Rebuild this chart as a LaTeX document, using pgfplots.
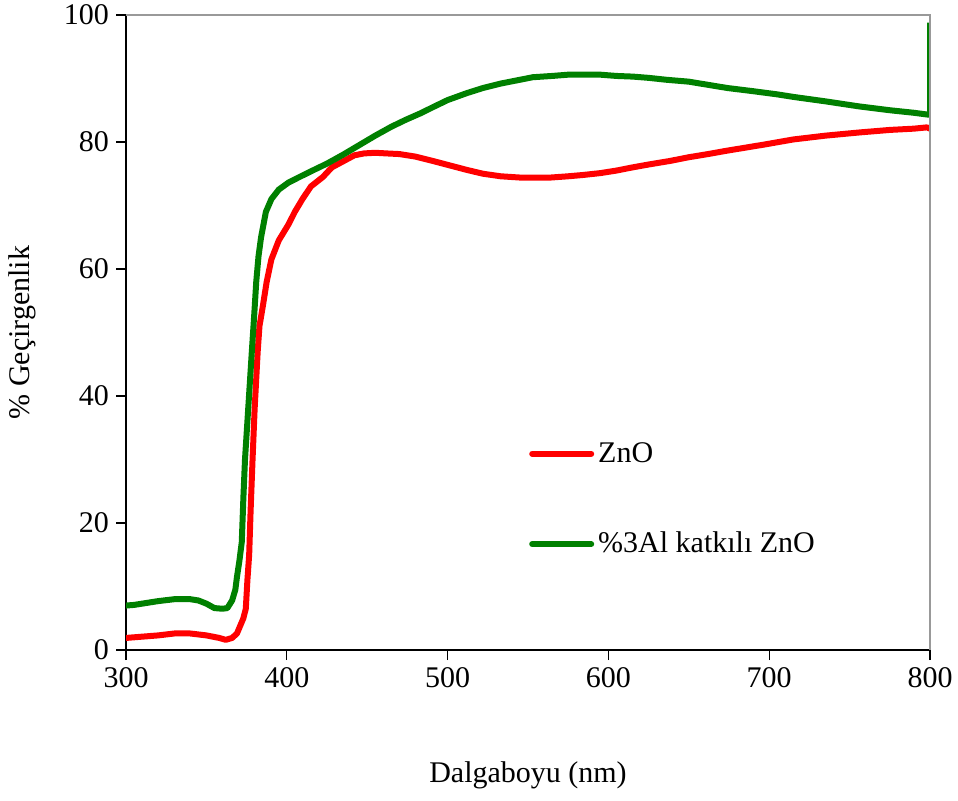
\documentclass[border=0pt]{standalone}
\usepackage{pgfplots}
\pgfplotsset{compat=1.18}
\usepackage{fontspec}
\setmainfont{Liberation Serif}
\definecolor{zred}{RGB}{255,0,0}
\definecolor{zgreen}{RGB}{0,128,0}
\begin{document}
\begin{tikzpicture}
\begin{axis}[
  name=ax,
  scale only axis=true,
  width=402pt, height=317.5pt,
  xmin=300, xmax=800, ymin=0, ymax=100,
  xtick={300,400,...,800}, ytick={0,20,...,100},
  font=\fontsize{15}{18}\selectfont,
  /pgf/number format/assume math mode=true,
  /pgf/number format/1000 sep={},
  tick align=outside, xtick pos=left, ytick pos=left,
  major tick length=5pt,
  tick style={black, line width=0.6pt},
  axis x line*=bottom, axis y line*=left,
  axis line style={black, line width=0.7pt, -},
  xlabel={Dalgaboyu (nm)},
  ylabel={\% Geçirgenlik},
  xlabel style={at={(axis description cs:0.5,-0.197)}, anchor=center},
  ylabel style={at={(axis description cs:-0.129,0.5)}, anchor=center, rotate=0},
  legend style={at={(axis description cs:0.501,0.334)}, anchor=north west, draw=none, fill=none,
    row sep=29.5pt, font=\fontsize{15}{18}\selectfont, inner sep=0pt},
  legend cell align=left,
  legend image code/.code={\draw[#1, line width=3pt, line cap=round] (0pt,0pt) -- (29.5pt,0pt);},
]
\addplot[zred, line width=3pt, line join=round] coordinates {
(300,1.9) (305,2.0) (310,2.1) (320,2.3) (330,2.6) (340,2.6) (350,2.3) (358,1.9) (362,1.6) (366,1.9)
(369,2.6) (371,3.8) (373,5.0) (374.5,6.5) (375.5,11) (376.6,15) (377.5,22) (378.7,30) (380,38)
(381.9,47) (383,51) (385,54) (387.5,58) (390.4,61.5) (395,64.5) (401,67) (405,69) (409.7,71)
(415,73) (422.5,74.5) (428,76) (435.4,77) (442,77.9) (448,78.2) (455,78.3) (462,78.2) (470,78.1)
(480,77.7) (491,77.0) (500,76.4) (512,75.6) (522,75.0) (533,74.6) (545,74.4) (555,74.4) (564,74.4)
(575,74.6) (584,74.8) (595,75.1) (605,75.5) (615,76.0) (626,76.5) (638,77.0) (650,77.6) (662,78.1)
(673,78.6) (685,79.1) (697,79.6) (715,80.4) (735,81.0) (756,81.5) (775,81.9) (790,82.1) (798,82.3) (800,82.1)
};
\addlegendentry{ZnO}
\addplot[zgreen, line width=3pt, line join=round] coordinates {
(300,7.0) (305,7.1) (310,7.3) (320,7.7) (330,8.0) (340,8.0) (345,7.8) (350,7.3) (355,6.6) (360,6.5)
(363,6.6) (366,7.8) (368,9.5) (369,11.5) (370.5,14) (372,17) (373,24) (374,30) (375.5,36) (377,42)
(378.5,48) (379.8,53) (381,58) (382.4,62) (384,65) (385.5,67) (387,69) (390.4,71) (395,72.5) (401,73.6)
(408,74.5) (416,75.5) (425,76.6) (435,78) (445,79.5) (455,81) (465,82.4) (474,83.5) (483,84.5)
(491,85.5) (500,86.6) (512,87.7) (522,88.5) (533,89.2) (543,89.7) (553,90.2) (565,90.4) (575,90.6)
(595,90.6) (605,90.4) (615,90.3) (625,90.1) (636,89.8) (650,89.5) (662,89.0) (674,88.5) (690,88.0)
(705,87.5) (715,87.1) (735,86.4) (756,85.6) (775,85.0) (790,84.6) (799,84.3) (800,84.3) (800,98.8)
};
\addlegendentry{\%3Al katkılı ZnO}
\end{axis}
\draw[gray!80, line width=0.7pt] (ax.north west) -- (ax.north east) -- (ax.south east);
\pgfresetboundingbox
\path ([xshift=-63pt,yshift=-75pt]ax.south west) rectangle ([xshift=14pt,yshift=7.5pt]ax.north east);
\end{tikzpicture}
\end{document}
